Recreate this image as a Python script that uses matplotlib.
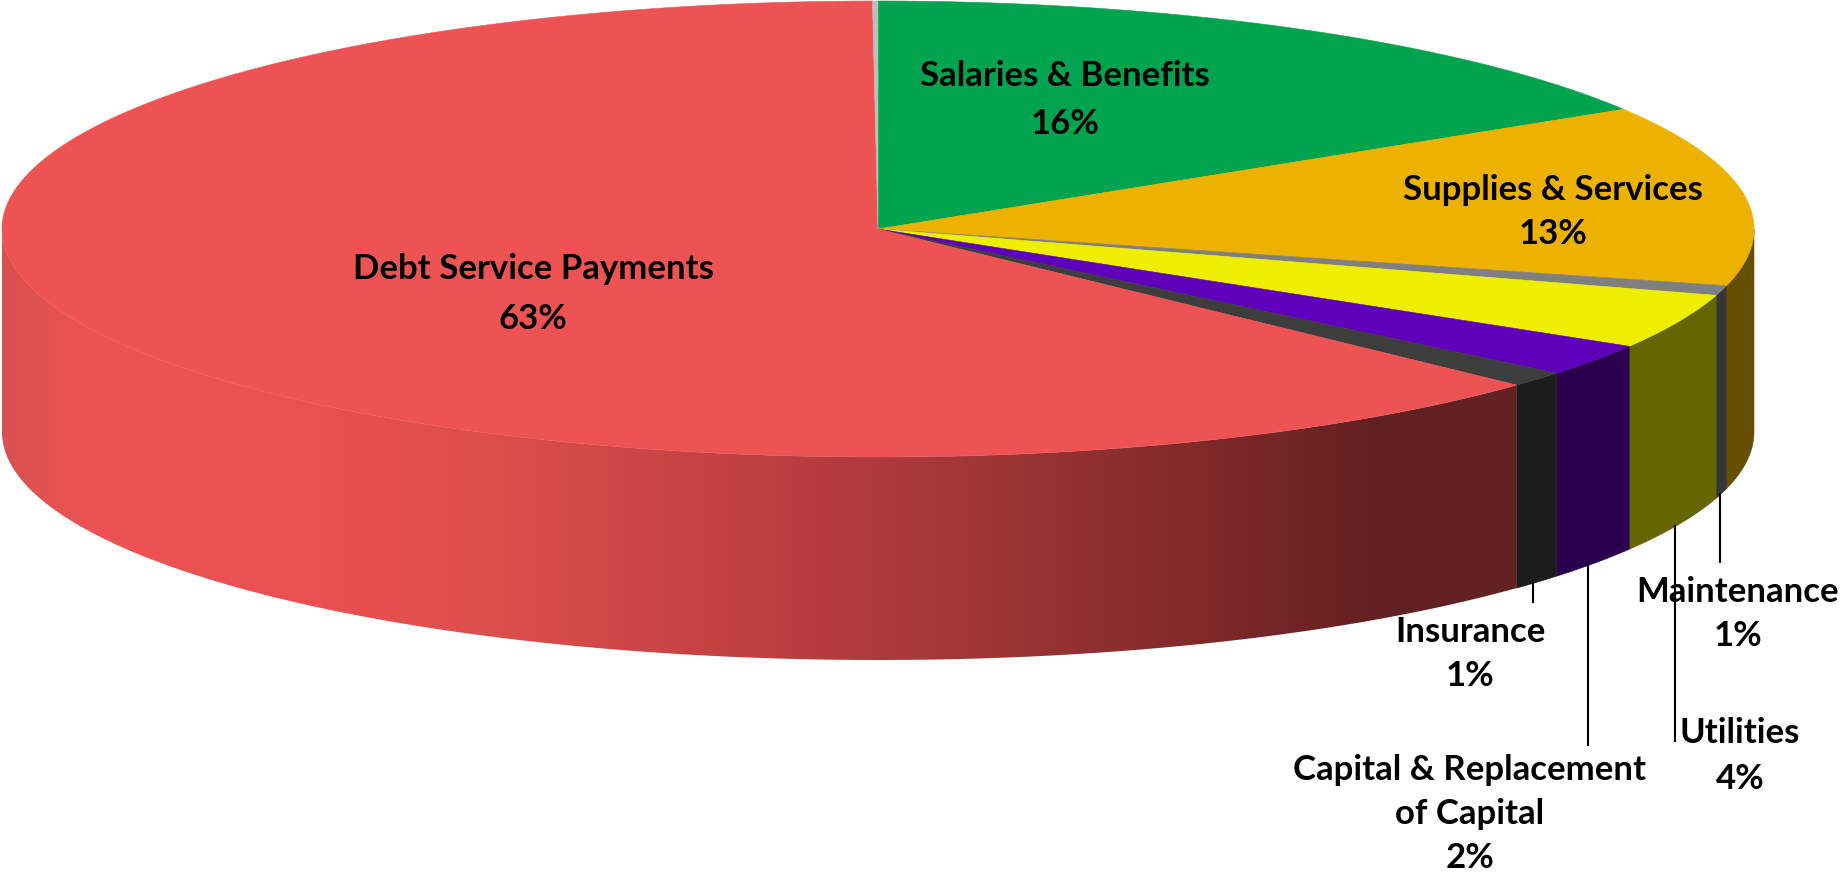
import numpy as np
import matplotlib
matplotlib.use("Agg")
import matplotlib.pyplot as plt
from matplotlib.colors import LinearSegmentedColormap
from matplotlib.patches import Polygon

plt.rcParams['font.family'] = ['Lato', 'DejaVu Sans']

# budget shares in percent, clockwise from twelve o'clock
names = ["Salaries & Benefits", "Supplies & Services", "Maintenance", "Utilities",
         "Capital & Replacement\nof Capital", "Insurance", "Debt Service Payments", ""]
shares = [16.2, 12.8, 0.7, 3.9, 2.3, 1.1, 62.9, 0.1]

top_colors = ["#00A44E", "#EDB100", "#7F7F7F", "#EEEE00", "#5F00BB", "#3D3D3D", "#EE5353", "#BEBEBE"]
side_colors = ["#006632", "#664F00", "#363636", "#666600", "#2B004F", "#1C1C1C", None, "#555555"]

# shading along the front wall of the big slice
red_stops = [0.0, 0.03, 0.066, 0.21, 0.33, 0.46, 0.56, 0.66, 0.76, 0.85, 0.91, 1.0]
red_colors = ["#D95050", "#E45252", "#EE5353", "#EA5050", "#DC4E4C", "#C64343",
              "#B33B3D", "#9E3535", "#882C2C", "#722526", "#632022", "#652224"]

label_xy = [(1065, 100), (1553, 212), (1738, 614), (1740, 756), (1470, 814), (1470, 654), (533, 294)]
label_spacing = [1.6, 1.43, 1.46, 1.55, 1.46, 1.49, 1.72]
leaders = [(1720, 493, 563), (1675, 525, 742), (1588, 563, 746), (1533, 582, 603)]

cx, cy = 878, 229
rx, ry = 876, 228
depth = 203


def rim(a, b, drop=0):
    t = np.radians(np.linspace(a, b, max(int(abs(b - a) * 4), 2)))
    return np.column_stack([cx + rx * np.sin(t), cy - ry * np.cos(t) + drop])


fig = plt.figure(figsize=(18.41, 8.75), dpi=100)
ax = fig.add_axes([0, 0, 1, 1])

edges = np.concatenate([[0], np.cumsum(shares)]) * 3.6
edges[-1] = 360

# outer wall first, only the part between 90 and 270 degrees faces the viewer
for i in range(len(shares)):
    a = max(edges[i], 90)
    b = min(edges[i + 1], 270)
    if a >= b:
        continue
    wall = np.vstack([rim(a, b), rim(b, a, depth)])
    if side_colors[i] is None:
        patch = Polygon(wall, closed=True, fc="none", ec="none", transform=ax.transData)
        ax.add_patch(patch)
        x0 = wall[:, 0].min()
        x1 = wall[:, 0].max()
        cmap = LinearSegmentedColormap.from_list("wall", list(zip(red_stops, red_colors)), N=512)
        im = ax.imshow(np.linspace(0, 1, 512).reshape(1, -1), cmap=cmap, aspect="auto",
                       extent=[x0, x1, wall[:, 1].max(), wall[:, 1].min()], zorder=1)
        im.set_clip_path(patch)
    else:
        ax.add_patch(Polygon(wall, closed=True, fc=side_colors[i], ec=side_colors[i], lw=0.4, zorder=1))

# top face
for i in range(len(shares)):
    pts = np.vstack([[cx, cy], rim(edges[i], edges[i + 1])])
    ax.add_patch(Polygon(pts, closed=True, fc=top_colors[i], ec=top_colors[i], lw=0.4, zorder=2))

# leader lines for the small slices
for x, y0, y1 in leaders:
    ax.plot([x, x], [y0, y1], color="black", lw=1.5, solid_capstyle="butt", zorder=3)

for name, share, (x, y), sp in zip(names, shares, label_xy, label_spacing):
    ax.text(x, y, "{}\n{:.0f}%".format(name, share), ha="center", va="center",
            fontsize=25, fontweight="bold", color="black", linespacing=sp, zorder=4)

ax.set_xlim(0, 1841)
ax.set_ylim(875, 0)
ax.axis("off")
fig.savefig("out.png", dpi=100, facecolor="white")
